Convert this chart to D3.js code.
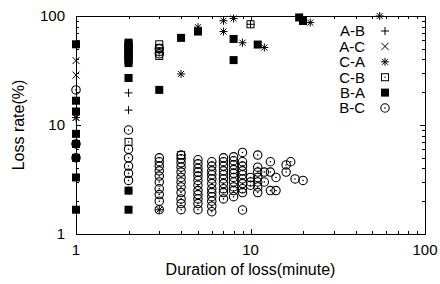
<!DOCTYPE html>
<html>
<head>
<meta charset="utf-8">
<script src="https://cdn.jsdelivr.net/npm/d3@7"></script>
<style>
  body { margin: 0; background: #fff; }
  svg { display: block; font-family: "Liberation Sans", Arial, Helvetica, sans-serif; }
</style>
</head>
<body>
<div id="chart"></div>
<script>
// series points: [duration (minute), loss rate (%)]
const abPts = [[2, 19.7], [2, 13.7], [10, 84]];
const acPts = [[1, 39], [1, 28.7], [1, 11.7], [2, 45], [2, 27]];
const caPts = [[1, 11.7], [1, 6.7], [2, 27], [2, 2.5], [3, 1.67], [4, 29.4], [5, 79],
  [7, 90.5], [7, 72], [8, 95], [9, 56.8], [12, 51.4], [22, 87], [55, 100]];
const cbPts = [[2, 7.0], [3, 55], [3, 51], [3, 47], [3, 43], [4, 5.3], [10, 84]];
const baPts = [[1, 55], [1, 16.7], [1, 13.3], [1, 8.3], [1, 6.7], [1, 5], [1, 3.3], [1, 1.67],
  [2, 57], [2, 55], [2, 53], [2, 51], [2, 49], [2, 47], [2, 45], [2, 43], [2, 41], [2, 39], [2, 37],
  [2, 27], [2, 2.5], [2, 1.67],
  [3, 21], [4, 63], [5, 72], [8, 61.6], [8, 39.4], [11, 54.7], [19, 97], [20, 90]];
const bcPts = [[1, 21], [1, 5], [1, 6.7],
  [2, 9], [2, 6], [2, 5], [2, 4.2], [2, 3.6], [2, 3.1],
  [3, 50], [3, 45], [3, 5.0], [3, 4.6], [3, 4.2], [3, 3.8], [3, 3.4], [3, 3.0], [3, 2.6], [3, 2.3], [3, 2.0], [3, 1.67],
  [4, 5.3], [4, 4.9], [4, 4.5], [4, 4.1], [4, 3.7], [4, 3.3], [4, 3.0], [4, 2.7], [4, 2.4], [4, 2.1], [4, 1.9], [4, 1.67],
  [5, 4.8], [5, 4.4], [5, 4.0], [5, 3.7], [5, 3.4], [5, 3.1], [5, 2.8], [5, 2.5], [5, 2.3], [5, 2.1], [5, 1.9], [5, 1.67],
  [6, 4.6], [6, 4.2], [6, 3.8], [6, 3.5], [6, 3.2], [6, 2.9], [6, 2.6], [6, 2.4], [6, 2.2], [6, 2.0], [6, 1.8], [6, 1.6],
  [7, 5.0], [7, 4.6], [7, 4.2], [7, 3.8], [7, 3.5], [7, 3.2], [7, 2.9], [7, 2.6], [7, 2.4], [7, 2.1],
  [8, 5.1], [8, 4.7], [8, 4.3], [8, 3.9], [8, 3.6], [8, 3.3], [8, 3.0], [8, 2.7], [8, 2.5], [8, 2.2],
  [9, 5.6], [9, 4.6], [9, 4.2], [9, 3.8], [9, 3.5], [9, 3.2], [9, 2.9], [9, 2.6], [9, 2.4], [9, 1.66],
  [10, 3.3], [10, 3.0], [10, 2.8],
  [11, 5.3], [11, 4.1], [11, 3.7], [11, 3.3], [11, 3.0], [11, 2.7], [11, 2.4],
  [12, 3.7], [12, 3.0], [13, 4.6], [13, 3.7], [13, 2.5], [14, 3.3], [14, 2.5],
  [16, 4.3], [16, 3.7], [17, 4.6], [18, 3.2], [20, 3.1]];

const seriesNames = ["A-B", "A-C", "C-A", "C-B", "B-A", "B-C"];
const seriesPts = [abPts, acPts, caPts, cbPts, baPts, bcPts];
const xTicks = [1, 10, 100];
const yTicks = [1, 10, 100];

const width = 440, height = 284;
const margin = {top: 16, right: 15, bottom: 50, left: 76};

const svg = d3.select("#chart").append("svg")
  .attr("width", width)
  .attr("height", height);

const x = d3.scaleLog().domain([1, 100]).range([margin.left, width - margin.right]);
const y = d3.scaleLog().domain([1, 100]).range([height - margin.bottom, margin.top]);

const x0 = x.range()[0], x1 = x.range()[1];
const y0 = y.range()[0], y1 = y.range()[1];

// minor ticks 2..9 per decade
const minor = [];
[1, 10].forEach(d => { for (let k = 2; k <= 9; k++) minor.push(d * k); });

// ticks point inward on all four sides
const tickG = svg.append("g").attr("stroke", "#000").attr("stroke-width", 1);
function ticksFor(vals, len) {
  vals.forEach(v => {
    const px = Math.round(x(v)) + 0.5, py = Math.round(y(v)) + 0.5;
    tickG.append("line").attr("x1", px).attr("x2", px).attr("y1", y0).attr("y2", y0 - len);
    tickG.append("line").attr("x1", px).attr("x2", px).attr("y1", y1).attr("y2", y1 + len);
    tickG.append("line").attr("y1", py).attr("y2", py).attr("x1", x0).attr("x2", x0 + len);
    tickG.append("line").attr("y1", py).attr("y2", py).attr("x1", x1).attr("x2", x1 - len);
  });
}
ticksFor(minor, 3);
ticksFor([10], 5);

svg.append("rect")
  .attr("x", x0 + 0.5).attr("y", y1 + 0.5)
  .attr("width", x1 - x0).attr("height", y0 - y1)
  .attr("fill", "none").attr("stroke", "#000").attr("stroke-width", 1);

svg.append("g").selectAll("text")
  .data(xTicks)
  .join("text")
  .attr("x", d => x(d))
  .attr("y", 255)
  .attr("text-anchor", "middle")
  .attr("font-size", 15)
  .text(d => d);

svg.append("g").selectAll("text")
  .data(yTicks)
  .join("text")
  .attr("x", 65)
  .attr("y", d => y(d))
  .attr("dy", "0.36em")
  .attr("text-anchor", "end")
  .attr("font-size", 15)
  .text(d => d);

svg.append("text")
  .attr("x", (x0 + x1) / 2)
  .attr("y", 275)
  .attr("text-anchor", "middle")
  .attr("font-size", 16)
  .text("Duration of loss(minute)");

svg.append("text")
  .attr("transform", `translate(24,${(y0 + y1) / 2}) rotate(-90)`)
  .attr("text-anchor", "middle")
  .attr("font-size", 16)
  .text("Loss rate(%)");

// gnuplot-like point types
const s = 4;
const markers = [
  g => g.append("path").attr("d", `M${-s},0H${s}M0,${-s}V${s}`).attr("stroke", "#000").attr("fill", "none"),
  g => g.append("path").attr("d", "M-3.5,-3.5L3.5,3.5M-3.5,3.5L3.5,-3.5").attr("stroke", "#000").attr("fill", "none"),
  g => g.append("path").attr("d", `M${-s},0H${s}M0,${-s}V${s}M-3,-3L3,3M-3,3L3,-3`).attr("stroke", "#000").attr("fill", "none"),
  g => {
    g.append("rect").attr("x", -3.5).attr("y", -3.5).attr("width", 7).attr("height", 7)
      .attr("stroke", "#000").attr("fill", "none");
    g.append("rect").attr("x", -0.6).attr("y", -0.6).attr("width", 1.2).attr("height", 1.2).attr("fill", "#000");
  },
  g => g.append("rect").attr("x", -s).attr("y", -s).attr("width", 2 * s).attr("height", 2 * s).attr("fill", "#000"),
  g => {
    g.append("circle").attr("r", 4.2).attr("stroke", "#000").attr("stroke-width", 1.1).attr("fill", "none");
    g.append("circle").attr("r", 0.8).attr("fill", "#000");
  }
];

seriesPts.forEach((pts, i) => {
  svg.append("g").selectAll("g")
    .data(pts)
    .join("g")
    .attr("transform", d => `translate(${x(d[0])},${y(d[1])})`)
    .each(function() { markers[i](d3.select(this)); });
});

// legend
const legend = svg.append("g");
seriesNames.forEach((name, i) => {
  const ly = 31 + i * 15.4;
  legend.append("text")
    .attr("x", 365).attr("y", ly).attr("dy", "0.36em")
    .attr("text-anchor", "end")
    .attr("font-size", 15)
    .text(name);
  markers[i](legend.append("g").attr("transform", `translate(385,${ly})`));
});
</script>
</body>
</html>
